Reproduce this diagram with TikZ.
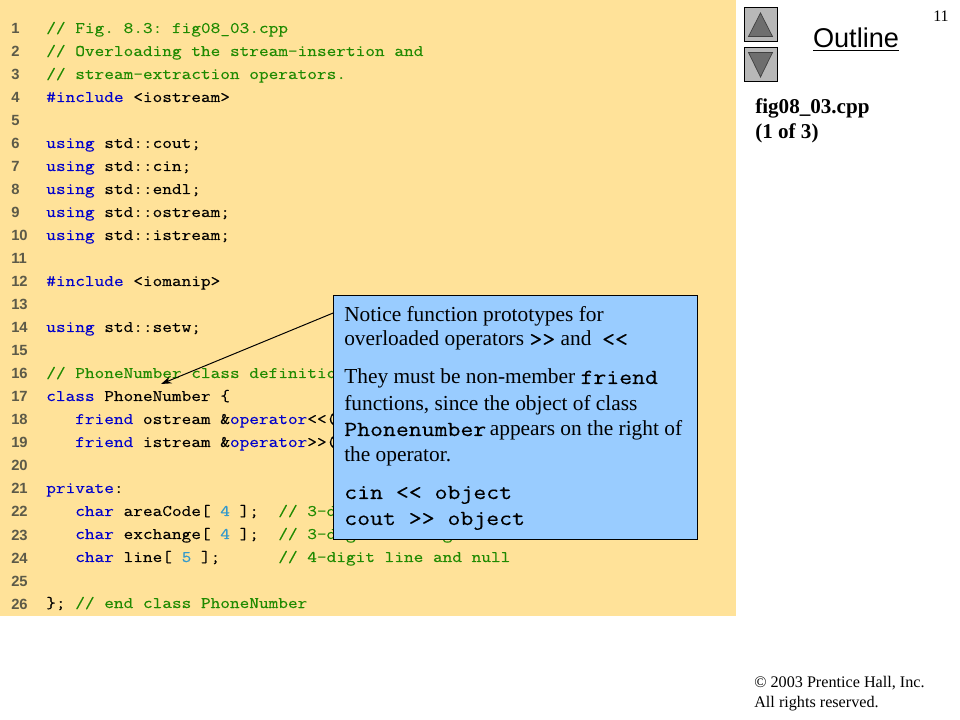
\documentclass[tikz,border=0pt]{standalone}
\usepackage{fontspec}
\usetikzlibrary{arrows.meta}
\setmainfont{Liberation Serif}
\setsansfont{Liberation Sans}
\setmonofont[FakeStretch=1.165,FakeBold=0.3,BoldFeatures={FakeBold=3}]{Latin Modern Mono}
\definecolor{panelyellow}{HTML}{FFE299}
\definecolor{calloutblue}{HTML}{99CCFF}
\definecolor{cmtgreen}{HTML}{1E8A00}
\definecolor{kwblue}{HTML}{0000CC}
\definecolor{numblue}{HTML}{3399CC}
\definecolor{numgrey}{HTML}{5C5A48}
\definecolor{btngrey}{HTML}{B8B8B8}
\definecolor{trigrey}{HTML}{6E6E6E}
\newcommand{\cmt}[1]{\textcolor{cmtgreen}{#1}}
\newcommand{\kw}[1]{\textcolor{kwblue}{#1}}
\newcommand{\nv}[1]{\textcolor{numblue}{#1}}
\newcommand{\cb}[1]{{\ttfamily\bfseries\fontsize{15.3}{15.3}\selectfont #1}}
\tikzset{
  linenum/.style={anchor=base west,inner sep=0pt,text=numgrey,font=\sffamily\bfseries\fontsize{10.5}{10.5}\selectfont},
  codeline/.style={anchor=base west,inner sep=0pt,font=\ttfamily\fontsize{11.46}{11.46}\selectfont},
  calloutbox/.style={draw=black,fill=calloutblue,line width=0.7pt,minimum width=9.075cm,minimum height=6.075cm,inner sep=0pt,outer sep=0pt},
  calloutline/.style={anchor=base west,inner sep=0pt,font=\fontsize{15.2}{15.2}\selectfont},
  sidetext/.style={anchor=base west,inner sep=0pt,font=\bfseries\fontsize{15}{15}\selectfont},
  smalltext/.style={anchor=base west,inner sep=0pt,font=\fontsize{11.5}{11.5}\selectfont},
  navbtn/.style={draw=black,fill=btngrey,line width=0.7pt,minimum size=0.825cm,inner sep=0pt,outer sep=0pt},
  navtri/.style={draw=black!75,fill=trigrey,line width=0.5pt}
}
\begin{document}
\begin{tikzpicture}[x=0.025cm,y=-0.025cm]
  \useasboundingbox (0,0) rectangle (960,720);
  \fill[panelyellow] (0,0) rectangle (736,616);
  \frenchspacing
  % line numbers
  \foreach \n in {1,...,26} {
    \node[linenum] (num\n) at (11,{11+23*\n}) {\n};
  }
  % code
  \node[codeline] (line1) at (46,33) {\cmt{// Fig. 8.3: fig08\_03.cpp}};
  \node[codeline] (line2) at (46,56) {\cmt{// Overloading the stream-insertion and}};
  \node[codeline] (line3) at (46,79) {\cmt{// stream-extraction operators.}};
  \node[codeline] (line4) at (46,102) {\kw{\#include} <iostream>};
  \node[codeline] (line6) at (46,148) {\kw{using} std::cout;};
  \node[codeline] (line7) at (46,171) {\kw{using} std::cin;};
  \node[codeline] (line8) at (46,194) {\kw{using} std::endl;};
  \node[codeline] (line9) at (46,217) {\kw{using} std::ostream;};
  \node[codeline] (line10) at (46,240) {\kw{using} std::istream;};
  \node[codeline] (line12) at (46,286) {\kw{\#include} <iomanip>};
  \node[codeline] (line14) at (46,332) {\kw{using} std::setw;};
  \node[codeline] (line16) at (46,378) {\cmt{// PhoneNumber class definition}};
  \node[codeline] (line17) at (46,401) {\kw{class} PhoneNumber \{};
  \node[codeline] (line18) at (75,424) {\kw{friend} ostream \&\kw{operator}<{}<(};
  \node[codeline] (line19) at (75,447) {\kw{friend} istream \&\kw{operator}>{}>(};
  \node[codeline] (line21) at (46,493) {\kw{private}:};
  \node[codeline] (line22) at (75,516) {\kw{char} areaCode[ \nv{4} ];\ \ \cmt{// 3-digit area code and null}};
  \node[codeline] (line23) at (75,539) {\kw{char} exchange[ \nv{4} ];\ \ \cmt{// 3-digit exchange and null}};
  \node[codeline] (line24) at (75,562) {\kw{char} line[ \nv{5} ];\ \ \ \ \ \ \cmt{// 4-digit line and null}};
  \node[codeline] (line26) at (46,608) {\}; \cmt{// end class PhoneNumber}};
  % callout
  \coordinate (tip) at (161,384);
  \node[calloutbox] (callout) at (515.5,417.5) {};
  \draw[-{Stealth[length=7.5pt,width=5pt]},line width=0.7pt] (callout.150) -- (tip);
  \node[calloutline] (note1) at (344,322) {Notice function prototypes for};
  \node[calloutline] (note2) at (344,346) {overloaded operators \cb{>{}>} and \ \cb{<{}<}};
  \node[calloutline] (note3) at (344,384) {They must be non-member \cb{friend}};
  \node[calloutline] (note4) at (344,411) {functions, since the object of class};
  \node[calloutline] (note5) at (344,436) {\cb{Phonenumber}\,appears on the right of};
  \node[calloutline] (note6) at (344,462) {the operator.};
  \node[calloutline] (note7) at (344,499) {\cb{cin <{}< object}};
  \node[calloutline] (note8) at (344,525) {\cb{cout >{}> object}};
  % outline column
  \node[navbtn] (btnup) at (760.5,24.5) {};
  \node[navbtn] (btndown) at (760.5,64.5) {};
  \draw[navtri] (748.5,36.5) -- (760.5,13) -- (772.5,36.5) -- cycle;
  \draw[navtri] (748.5,52.5) -- (760.5,77) -- (772.5,52.5) -- cycle;
  \node[anchor=base,inner sep=0pt,font=\sffamily\fontsize{19.3}{19.3}\selectfont] (outline) at (856,48) {Outline};
  \draw[line width=1.2pt] (813,50.5) -- (899,50.5);
  \node[anchor=base east,inner sep=0pt,font=\fontsize{11.4}{11.4}\selectfont] (pagenum) at (949,22) {11};
  \node[sidetext] (figname) at (755,114) {fig08\_03.cpp};
  \node[sidetext] (figpart) at (755,139) {(1 of 3)};
  \node[smalltext] (copy1) at (754,687) {© 2003 Prentice Hall, Inc.};
  \node[smalltext] (copy2) at (754,707) {All rights reserved.};
\end{tikzpicture}
\end{document}
